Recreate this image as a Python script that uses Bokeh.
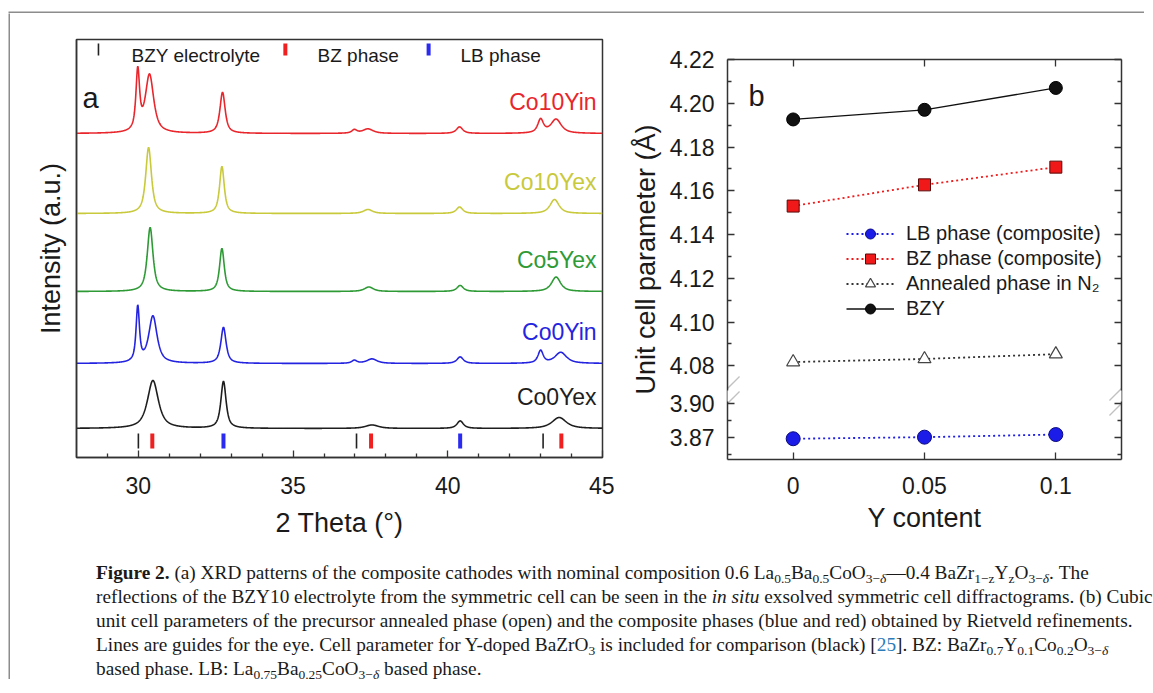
import numpy as np
from bokeh.plotting import figure
from bokeh.models import (Range1d, FixedTicker, LinearAxis, CustomJSTickFormatter,
                          Legend, LegendItem, PolyAnnotation, Div, ColumnDataSource)
from bokeh.layouts import row, column
from bokeh.core.properties import value
from bokeh.embed import file_html
from bokeh.resources import INLINE

FONT = "Liberation Sans"
INK = "#1a1a1a"
SPINE = "#333333"

# ---------------- Panel (a): XRD patterns ----------------
pattern_names = ["Co10Yin", "Co10Yex", "Co5Yex", "Co0Yin", "Co0Yex"]
pattern_colors = ["#e8262c", "#c9c93c", "#2e9a35", "#2424e0", "#1e1e1e"]
pattern_offsets = [324, 244, 166, 94, 29]          # stacking offsets (a.u.)

# peak positions (2θ, °), heights (a.u.), FWHM (°)
co10yin_pos = [29.98, 30.36, 32.72, 36.98, 37.42, 40.38, 43.00, 43.50]
co10yin_hgt = [60, 58, 41, 3.5, 4.5, 6.5, 13.5, 14]
co10yin_fwhm = [0.14, 0.32, 0.20, 0.20, 0.40, 0.25, 0.22, 0.40]

co10yex_pos = [30.33, 32.70, 37.42, 40.38, 43.45]
co10yex_hgt = [66, 47, 4, 6.5, 14]
co10yex_fwhm = [0.22, 0.18, 0.35, 0.25, 0.35]

co5yex_pos = [30.38, 32.70, 37.45, 40.40, 43.50]
co5yex_hgt = [64, 43, 4.5, 6, 14.5]
co5yex_fwhm = [0.22, 0.18, 0.35, 0.25, 0.35]

co0yin_pos = [29.98, 30.47, 32.75, 36.98, 37.55, 40.40, 43.00, 43.65]
co0yin_hgt = [55, 47, 36, 3, 4.5, 6.5, 12.5, 11]
co0yin_fwhm = [0.13, 0.32, 0.20, 0.20, 0.40, 0.25, 0.20, 0.45]

co0yex_pos = [30.47, 32.75, 37.55, 40.40, 43.60]
co0yex_hgt = [48, 47, 3.5, 7.5, 11]
co0yex_fwhm = [0.42, 0.20, 0.50, 0.25, 0.55]

peak_pos = [co10yin_pos, co10yex_pos, co5yex_pos, co0yin_pos, co0yex_pos]
peak_hgt = [co10yin_hgt, co10yex_hgt, co5yex_hgt, co0yin_hgt, co0yex_hgt]
peak_fwhm = [co10yin_fwhm, co10yex_fwhm, co5yex_fwhm, co0yin_fwhm, co0yex_fwhm]

# reference reflections (2θ, °)
bzy_ref = [30.00, 37.05, 43.08]
bz_ref = [30.45, 37.52, 43.67]
lb_ref = [32.75, 40.40]
ref_names = ["BZY electrolyte", "BZ phase", "LB phase"]
ref_colors = ["#222222", "#f02020", "#2a2af0"]

x_ticks_a = [30, 35, 40, 45]
x_minor_a = [29, 31, 32, 33, 34, 36, 37, 38, 39, 41, 42, 43, 44]

two_theta = np.arange(28.0, 45.0001, 0.01)


def profile(x, centers, heights, widths, eta=0.8):
    y = np.zeros_like(x)
    for c, h, w in zip(centers, heights, widths):
        u = ((x - c) / (w / 2.0)) ** 2
        y += h * (eta / (1.0 + u) + (1.0 - eta) * np.exp(-np.log(2.0) * u))
    return y


def style_axis(ax, label_size):
    ax.axis_line_color = SPINE
    ax.axis_line_width = 1.5
    ax.major_tick_line_color = SPINE
    ax.minor_tick_line_color = SPINE
    ax.major_tick_line_width = 1.3
    ax.minor_tick_line_width = 1.3
    ax.major_tick_in = 7
    ax.major_tick_out = 0
    ax.minor_tick_in = 4
    ax.minor_tick_out = 0
    ax.major_label_text_font = FONT
    ax.major_label_text_font_size = label_size
    ax.major_label_text_color = INK
    ax.axis_label_text_font = FONT
    ax.axis_label_text_font_size = "27px"
    ax.axis_label_text_font_style = "normal"
    ax.axis_label_text_color = INK


pa = figure(width=604, height=532, output_backend="svg", toolbar_location=None,
            x_range=Range1d(28, 45), y_range=Range1d(0, 418),
            min_border_left=66, min_border_right=12, min_border_top=26, min_border_bottom=88)
pa.grid.visible = False
pa.outline_line_color = SPINE
pa.outline_line_width = 1.5
pa.background_fill_color = "white"
pa.border_fill_color = "white"

for name, col, off, pos, hgt, fw in zip(pattern_names, pattern_colors, pattern_offsets,
                                         peak_pos, peak_hgt, peak_fwhm):
    pa.line(two_theta, off + profile(two_theta, pos, hgt, fw), line_color=col, line_width=1.6)

lab_src = ColumnDataSource(dict(x=[44.81] * 5, y=[o + 32 for o in pattern_offsets],
                                t=pattern_names, c=pattern_colors))
pa.text(x="x", y="y", text="t", text_color="c", source=lab_src, text_align="right",
        text_baseline="middle", text_font=value(FONT), text_font_size=value("23px"))

# reference reflection ticks at the bottom
for refs, col, lw in zip([bzy_ref, bz_ref, lb_ref], ref_colors, [1.6, 4, 4]):
    pa.segment(x0=refs, x1=refs, y0=[9] * len(refs), y1=[24] * len(refs),
               line_color=col, line_width=lw)

# key for the reference ticks (top of panel)
key_mark_x = [28.71, 34.75, 39.38]
key_text_x = [29.78, 35.79, 40.41]
for kx, tx, nm, col, lw in zip(key_mark_x, key_text_x, ref_names, ref_colors, [1.6, 4, 4]):
    pa.segment(x0=[kx], x1=[kx], y0=[402], y1=[414], line_color=col, line_width=lw)
    pa.text(x=[tx], y=[402], text=[nm], text_align="left", text_baseline="middle",
            text_font=value(FONT), text_font_size=value("19px"), text_color=INK)

pa.text(x=[28.19], y=[360], text=["a"], text_align="left", text_baseline="middle",
        text_font=value(FONT), text_font_size=value("29px"), text_color=INK)

xa = pa.below[0]
ya = pa.left[0]
xa.ticker = FixedTicker(ticks=x_ticks_a, minor_ticks=x_minor_a)
xa.axis_label = "2 Theta (°)"
xa.major_label_standoff = 19
xa.axis_label_standoff = 11
ya.ticker = FixedTicker(ticks=[])
ya.axis_label = "Intensity (a.u.)"
ya.major_label_standoff = 0
ya.axis_label_standoff = 11
style_axis(xa, "23px")
style_axis(ya, "0px")

# ---------------- Panel (b): unit cell parameters ----------------
y_content = [0.0, 0.05, 0.1]
lb_param = [3.8689, 3.8703, 3.8726]
bz_param = [4.1530, 4.1627, 4.1708]
annealed_param = [4.0817, 4.0831, 4.0853]
bzy_param = [4.1926, 4.1970, 4.2070]

y_major_upper = [4.08, 4.10, 4.12, 4.14, 4.16, 4.18, 4.20, 4.22]
y_minor_upper = [4.09, 4.11, 4.13, 4.15, 4.17, 4.19, 4.21]
y_major_lower = [3.87, 3.90]
y_minor_lower = [3.855, 3.885]

# broken axis: lower segment is compressed and placed under the upper one
Y_TOP, Y_BOT = 4.22, 4.22 - 400 / 2187.5
L0 = 4.22 - 344 / 2187.5       # plotted position of 3.90
K = (34 / 0.03) / 2187.5       # scale of the lower segment relative to the upper


def to_plot(v):
    return v if v > 4.0 else L0 + (v - 3.90) * K


pb = figure(width=527, height=514, output_backend="svg", toolbar_location=None,
            x_range=Range1d(-0.025, 0.125), y_range=Range1d(Y_BOT, Y_TOP),
            min_border_left=113, min_border_right=20, min_border_top=26, min_border_bottom=88)
pb.grid.visible = False
pb.outline_line_color = None
pb.background_fill_color = "white"
pb.border_fill_color = "white"

BLUE, RED = "#1c1ce8", "#f01818"
r_lb_l = pb.line(y_content, [to_plot(v) for v in lb_param], line_color=BLUE,
                 line_width=1.8, line_dash="2 3")
r_lb_s = pb.scatter(y_content, [to_plot(v) for v in lb_param], marker="circle", size=14,
                    fill_color=BLUE, line_color="#0a0a80", line_width=1)
r_bz_l = pb.line(y_content, bz_param, line_color=RED, line_width=1.8, line_dash="2 3")
r_bz_s = pb.scatter(y_content, bz_param, marker="square", size=12, fill_color=RED,
                    line_color="#5a0a0a", line_width=1)
r_an_l = pb.line(y_content, annealed_param, line_color="#333333", line_width=1.8, line_dash="2 3")
r_an_s = pb.scatter(y_content, annealed_param, marker="triangle", size=13, fill_color="white",
                    line_color="#444444", line_width=1.2)
r_bzy_l = pb.line(y_content, bzy_param, line_color="#111111", line_width=1.3)
r_bzy_s = pb.scatter(y_content, bzy_param, marker="circle", size=13, fill_color="#111111",
                     line_color="#000000")

pb.text(x=[-0.017], y=[4.2035], text=["b"], text_align="left", text_baseline="middle",
        text_font=value(FONT), text_font_size=value("29px"), text_color=INK)

legend = Legend(items=[
    LegendItem(label="LB phase (composite)", renderers=[r_lb_l, r_lb_s]),
    LegendItem(label="BZ phase (composite)", renderers=[r_bz_l, r_bz_s]),
    LegendItem(label="Annealed phase in N\u2082", renderers=[r_an_l, r_an_s]),
    LegendItem(label="BZY", renderers=[r_bzy_l, r_bzy_s]),
], location=(119, 138), glyph_width=48, glyph_height=25, spacing=0, label_standoff=12,
    padding=0, margin=0, border_line_color=None, background_fill_alpha=0,
    label_text_font=FONT, label_text_font_size="20px", label_text_color=INK, label_height=25)
pb.add_layout(legend)

y_ticker = FixedTicker(ticks=[to_plot(v) for v in y_major_lower] + y_major_upper,
                       minor_ticks=[to_plot(v) for v in y_minor_lower] + y_minor_upper)
x_ticker_b = FixedTicker(ticks=y_content, minor_ticks=[])

xb = pb.below[0]
yb = pb.left[0]
yb.ticker = y_ticker
yb.formatter = CustomJSTickFormatter(args=dict(L0=L0, K=K), code="""
    if (tick < 4.07) { return (3.90 + (tick - L0) / K).toFixed(2); }
    return tick.toFixed(2);
""")
yb.axis_label = "Unit cell parameter (Å)"
yb.major_label_standoff = 13
yb.axis_label_standoff = 6
xb.ticker = x_ticker_b
xb.formatter = CustomJSTickFormatter(code="return tick.toString();")
xb.axis_label = "Y content"
xb.major_label_standoff = 17
xb.axis_label_standoff = 6

ax_right = LinearAxis(ticker=y_ticker, formatter=CustomJSTickFormatter(code="return '';"),
                      major_label_standoff=0)
ax_top = LinearAxis(ticker=x_ticker_b, formatter=CustomJSTickFormatter(code="return '';"),
                    major_label_standoff=0)
pb.add_layout(ax_right, "right")
pb.add_layout(ax_top, "above")

style_axis(xb, "23px")
style_axis(yb, "23px")
style_axis(ax_right, "0px")
style_axis(ax_top, "0px")

# axis-break marks on left and right spines
px_x = 1 / 2620.0
px_y = 1 / 2187.5
for xc in (-0.025, 0.125):
    gap = PolyAnnotation(xs=[xc - 3 * px_x, xc + 3 * px_x, xc + 3 * px_x, xc - 3 * px_x],
                         ys=[Y_TOP - 331 * px_y, Y_TOP - 331 * px_y, Y_TOP - 342 * px_y, Y_TOP - 342 * px_y],
                         fill_color="white", fill_alpha=1, line_color=None)
    pb.add_layout(gap)
for xc in (-0.025, 0.125):
    for yc in (329, 344):
        mark = PolyAnnotation(xs=[xc - 12 * px_x, xc + 12 * px_x],
                              ys=[Y_TOP - (yc + 12) * px_y, Y_TOP - (yc - 12) * px_y],
                              fill_alpha=0, line_color=SPINE, line_width=1.3)
        pb.add_layout(mark)

# ---------------- Caption ----------------
def sub(t):
    return f'<span style="font-size:70%;vertical-align:-0.32em;line-height:0">{t}</span>'


d = '<i>δ</i>'
caption_lines = [
    f'<b>Figure 2.</b> (a) XRD patterns of the composite cathodes with nominal composition 0.6 La{sub("0.5")}Ba{sub("0.5")}CoO{sub("3−" + d)}—0.4 BaZr{sub("1−z")}Y{sub("z")}O{sub("3−" + d)}. The',
    'reflections of the BZY10 electrolyte from the symmetric cell can be seen in the <i>in situ</i> exsolved symmetric cell diffractograms. (b) Cubic',
    'unit cell parameters of the precursor annealed phase (open) and the composite phases (blue and red) obtained by Rietveld refinements.',
    f'Lines are guides for the eye. Cell parameter for Y-doped BaZrO{sub("3")} is included for comparison (black) [<span style="color:#2b7bb9">25</span>]. BZ: BaZr{sub("0.7")}Y{sub("0.1")}Co{sub("0.2")}O{sub("3−" + d)}',
    f'based phase. LB: La{sub("0.75")}Ba{sub("0.25")}CoO{sub("3−" + d)} based phase.',
]
caption_html = ('<div style="font-family:\'Liberation Serif\',serif;font-size:19.3px;line-height:24px;'
                'color:#1a1a1a;letter-spacing:0px;white-space:nowrap;padding-left:86px;padding-top:14px;">'
                + '<br>'.join(caption_lines) + '</div>')
caption = Div(text=caption_html, width=1134, height=130, margin=0)

# ---------------- Frame (gray box edges) and layout ----------------
GRAY = "#8c8c8c"

# top edge: a blank strip whose 2-px frame is filled gray
top_bar = figure(width=1144, height=13, output_backend="svg", toolbar_location=None,
                 x_axis_type=None, y_axis_type=None, title=None,
                 min_border_left=8, min_border_right=0, min_border_top=11, min_border_bottom=0,
                 background_fill_color=GRAY, border_fill_color="white", outline_line_color=None)
top_bar.grid.visible = False

# left edge
vline = figure(width=2, height=666, output_backend="svg", toolbar_location=None,
               x_axis_type=None, y_axis_type=None, title=None, min_border=0,
               background_fill_color=GRAY, border_fill_color=GRAY, outline_line_color=None)
vline.grid.visible = False

left_pad = Div(text="", width=8, height=666, margin=0)
b_pad = Div(text="", width=527, height=20, margin=0)
inner = column(row(column(pa), column(b_pad, pb)), caption)
layout = column(top_bar, row(left_pad, vline, inner))

open("out.html", "w").write(file_html(layout, INLINE))
